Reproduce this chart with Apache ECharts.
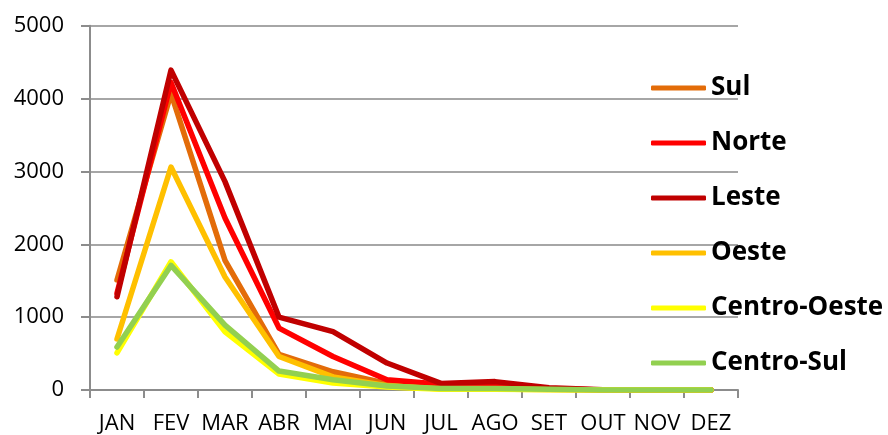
<!DOCTYPE html>
<html>
<head>
<meta charset="utf-8">
<script src="https://cdn.jsdelivr.net/npm/echarts@6/dist/echarts.min.js"></script>
<style>
html,body{margin:0;padding:0;background:#fff;}
#chart{width:888px;height:435px;}
</style>
</head>
<body>
<div id="chart"></div>
<script>
var categories = ['JAN','FEV','MAR','ABR','MAI','JUN','JUL','AGO','SET','OUT','NOV','DEZ'];
var yTicks = [0, 1000, 2000, 3000, 4000, 5000];
var seriesNames = ['Sul','Norte','Leste','Oeste','Centro-Oeste','Centro-Sul'];
var sul = [1510, 4070, 1780, 490, 250, 90, 20, 20, 10, 0, 0, 0];
var norte = [1330, 4220, 2360, 850, 460, 140, 80, 60, 20, 0, 0, 0];
var leste = [1280, 4390, 2860, 1000, 800, 370, 90, 115, 30, 5, 0, 0];
var oeste = [700, 3060, 1550, 460, 180, 60, 15, 15, 5, 0, 0, 0];
var centroOeste = [510, 1760, 800, 220, 95, 40, 10, 10, 5, 0, 0, 0];
var centroSul = [590, 1710, 890, 260, 140, 55, 20, 20, 10, 0, 0, 0];
var colors = ['#E36C09','#FF0000','#C00000','#FFC000','#FFFF00','#92D050'];

var values = [sul, norte, leste, oeste, centroOeste, centroSul];
var chart = echarts.init(document.getElementById('chart'), null, {renderer:'canvas'});
var series = seriesNames.map(function(n, i){
  return {
    name: n, type: 'line', data: values[i], symbol: 'none',
    lineStyle: {width: 5.5, color: colors[i], cap: 'round', join: 'round'},
    itemStyle: {color: colors[i]},
    animation: false
  };
});
chart.setOption({
  animation: false,
  color: colors,
  grid: {left: 90, right: 150, top: 25.7, bottom: 45, containLabel: false, outerBoundsMode: 'none'},
  legend: {
    orient: 'vertical', left: 651, top: 75, padding: 0,
    icon: 'roundRect', itemWidth: 55, itemHeight: 5, itemGap: 29,
    data: seriesNames,
    textStyle: {fontFamily: 'Open Sans', fontWeight: 'bold', fontSize: 26, color: '#000', padding: [0,0,0,0]},
    selectedMode: false
  },
  xAxis: {
    type: 'category', data: categories, boundaryGap: true,
    axisLine: {show: true, lineStyle: {color: '#8C8C8C', width: 2}},
    axisTick: {show: true, length: 8, lineStyle: {color: '#8C8C8C', width: 2}},
    axisLabel: {fontFamily: 'Open Sans', fontSize: 22, color: '#000', margin: 23, interval: 0},
    splitLine: {show: false}
  },
  yAxis: {
    type: 'value', min: yTicks[0], max: yTicks[yTicks.length-1], interval: 1000,
    axisLine: {show: true, lineStyle: {color: '#8C8C8C', width: 2}},
    axisTick: {show: true, length: 9, lineStyle: {color: '#8C8C8C', width: 2}},
    axisLabel: {fontFamily: 'Open Sans', fontSize: 22, color: '#000', margin: 26,
      formatter: function(v){ return String(v); }},
    splitLine: {show: true, lineStyle: {color: '#A6A6A6', width: 2}}
  },
  series: series
});
</script>
</body>
</html>
